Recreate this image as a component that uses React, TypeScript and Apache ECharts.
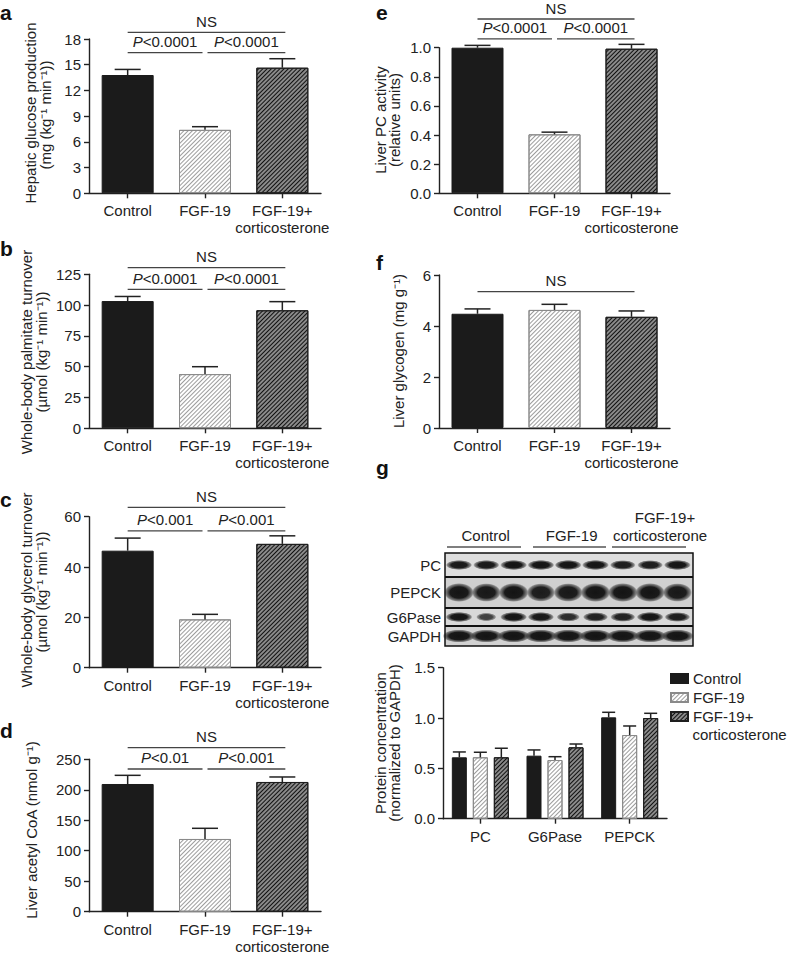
import React, { useEffect, useRef } from 'react';
import * as echarts from 'echarts';

// ---------------- data ----------------
const groups = ['Control', 'FGF-19', 'FGF-19+\ncorticosterone'];

const glucoseMean = [13.8, 7.4, 14.65];
const glucoseErr = [0.65, 0.37, 1.05];
const palmitateMean = [103.3, 44, 95.8];
const palmitateErr = [3.7, 6, 7];
const glycerolMean = [46.5, 19.2, 49.2];
const glycerolErr = [5, 2, 3.2];
const acetylMean = [209.5, 119.3, 212.8];
const acetylErr = [14.2, 17.5, 8.2];
const pcActMean = [1.0, 0.405, 0.993];
const pcActErr = [0.016, 0.015, 0.03];
const glycogenMean = [4.48, 4.63, 4.36];
const glycogenErr = [0.19, 0.22, 0.23];

const proteins = ['PC', 'G6Pase', 'PEPCK'];
const protControl = [0.61, 0.626, 1.007];
const protControlErr = [0.053, 0.057, 0.05];
const protFgf = [0.61, 0.583, 0.831];
const protFgfErr = [0.05, 0.033, 0.09];
const protCort = [0.61, 0.709, 1.0];
const protCortErr = [0.09, 0.033, 0.047];

const seriesNames = ['Control', 'FGF-19', 'FGF-19+ corticosterone'];

// significance brackets: [from group, to group]
const bracketSpans = [[0, 2], [0, 1], [1, 2]];
const aBrLevels = [18.78, 16.4, 16.4];
const aBrLabels = ['NS', 'P<0.0001', 'P<0.0001'];
const bBrLevels = [130.4, 112.8, 112.8];
const bBrLabels = ['NS', 'P<0.0001', 'P<0.0001'];
const cBrLevels = [63.7, 54.4, 54.4];
const cBrLabels = ['NS', 'P<0.001', 'P<0.001'];
const dBrLevels = [269, 234.1, 234.1];
const dBrLabels = ['NS', 'P<0.01', 'P<0.001'];
const eBrLevels = [1.197, 1.06, 1.06];
const eBrLabels = ['NS', 'P<0.0001', 'P<0.0001'];
const fBrLevels = [5.345];
const fBrLabels = ['NS'];

// western blot relative band strength per lane (9 lanes)
const blotPC = [0.95, 0.95, 1, 1, 1, 1, 0.9, 0.9, 1];
const blotPEPCK = [1, 0.95, 1, 0.9, 0.95, 1, 1, 1, 0.95];
const blotG6Pase = [1, 0.45, 1, 0.95, 0.7, 0.85, 0.85, 1, 0.9];
const blotGAPDH = [1, 1, 1, 1, 1, 1, 1, 1, 1];

// ---------------- style ----------------
const FONT = '"Liberation Sans", Arial, Helvetica, sans-serif';
const INK = '#222';

const lightDecal = {
  symbol: 'rect', symbolSize: 1, color: '#9c9c9c', backgroundColor: '#ffffff',
  dashArrayX: [1, 0], dashArrayY: [1, 2], rotation: -Math.PI / 4,
};
const darkDecal = {
  symbol: 'rect', symbolSize: 1, color: '#111111', backgroundColor: '#8a8a8a',
  dashArrayX: [1, 0], dashArrayY: [1, 2], rotation: -Math.PI / 4,
};
const groupStyles: any[] = [
  { color: '#1b1b1b', borderColor: '#1b1b1b', borderWidth: 1 },
  { color: '#ffffff', borderColor: '#8a8a8a', borderWidth: 1, decal: lightDecal },
  { color: '#8a8a8a', borderColor: '#1e1e1e', borderWidth: 1, decal: darkDecal },
];

function yAxisOf(gridIndex: number, max: number, interval: number, dec: number) {
  return {
    type: 'value', gridIndex, min: 0, max, interval,
    axisLine: { show: true, lineStyle: { color: INK, width: 1.4 } },
    axisTick: { show: true, length: 5, lineStyle: { color: INK, width: 1.4 } },
    splitLine: { show: false },
    axisLabel: {
      color: INK, fontSize: 15, fontFamily: FONT, margin: 8,
      formatter: (v: number) => v.toFixed(dec),
    },
  };
}
function xAxisOf(gridIndex: number, cats: string[]) {
  return {
    type: 'category', gridIndex, data: cats,
    axisLine: { show: true, lineStyle: { color: INK, width: 1.4 } },
    axisTick: { show: true, alignWithLabel: true, length: 5, lineStyle: { color: INK, width: 1.4 } },
    axisLabel: { color: INK, fontSize: 15, fontFamily: FONT, margin: 9, lineHeight: 17, interval: 0 },
  };
}

function errRender(capHalf: number, dx: number) {
  return (params: any, api: any) => {
    const top = api.coord([api.value(0), api.value(2)]);
    const base = api.coord([api.value(0), api.value(1)]);
    const x = top[0] + dx;
    const st = { stroke: INK, lineWidth: 1.5 };
    return {
      type: 'group',
      children: [
        { type: 'line', shape: { x1: x, y1: base[1], x2: x, y2: top[1] }, style: st },
        { type: 'line', shape: { x1: x - capHalf, y1: top[1], x2: x + capHalf, y2: top[1] }, style: st },
      ],
    };
  };
}

function bracketRender(labels: string[]) {
  return (params: any, api: any) => {
    const s = api.value(0);
    const e = api.value(1);
    const lv = api.value(2);
    const p1 = api.coord([s, lv]);
    const p2 = api.coord([e, lv]);
    const x1 = p1[0] + (s === 1 ? 2.5 : 0);
    const x2 = p2[0] + (e === 1 ? -2.5 : 3);
    const label = labels[params.dataIndex];
    const isP = label.charAt(0) === 'P';
    return {
      type: 'group',
      children: [
        { type: 'line', shape: { x1, y1: p1[1], x2, y2: p1[1] }, style: { stroke: '#444', lineWidth: 1.3 } },
        {
          type: 'text', x: (x1 + x2) / 2, y: p1[1] - 3,
          style: {
            text: isP ? '{i|P}' + label.slice(1) : label,
            align: 'center', verticalAlign: 'bottom',
            font: `15px ${FONT}`, fill: INK, lineHeight: 16,
            rich: { i: { fontStyle: 'italic', fontSize: 15, fontFamily: FONT, fill: INK, lineHeight: 16 } },
          },
        },
      ],
    };
  };
}

const panels = [
  { mean: glucoseMean, err: glucoseErr, max: 18, interval: 3, dec: 0, grid: { left: 89, top: 39, width: 232, height: 154.3 }, lv: aBrLevels, lb: aBrLabels },
  { mean: palmitateMean, err: palmitateErr, max: 125, interval: 25, dec: 0, grid: { left: 89, top: 274.3, width: 232, height: 154 }, lv: bBrLevels, lb: bBrLabels },
  { mean: glycerolMean, err: glycerolErr, max: 60, interval: 20, dec: 0, grid: { left: 89, top: 516.7, width: 232, height: 151 }, lv: cBrLevels, lb: cBrLabels },
  { mean: acetylMean, err: acetylErr, max: 250, interval: 50, dec: 0, grid: { left: 89, top: 759.3, width: 232, height: 152.4 }, lv: dBrLevels, lb: dBrLabels },
  { mean: pcActMean, err: pcActErr, max: 1.0, interval: 0.2, dec: 1, grid: { left: 439, top: 47.7, width: 231, height: 145.6 }, lv: eBrLevels, lb: eBrLabels },
  { mean: glycogenMean, err: glycogenErr, max: 6, interval: 2, dec: 0, grid: { left: 439, top: 275, width: 231, height: 153 }, lv: fBrLevels, lb: fBrLabels },
];

function rotText(text: string, x: number, y: number) {
  return {
    type: 'text', x, y, rotation: Math.PI / 2,
    style: { text, align: 'center', verticalAlign: 'middle', font: `15px ${FONT}`, fill: INK },
  };
}
function plainText(text: string, x: number, y: number, align = 'center', font = `15px ${FONT}`) {
  return { type: 'text', x, y, style: { text, align, verticalAlign: 'middle', font, fill: INK } };
}

function bandFill(v: number) {
  const a = 0.6 + 0.4 * v;
  return {
    type: 'radial', x: 0.5, y: 0.5, r: 0.5,
    colorStops: [
      { offset: 0, color: `rgba(20,20,20,${a})` },
      { offset: 0.6, color: `rgba(26,26,26,${a})` },
      { offset: 0.88, color: `rgba(60,60,60,${a * 0.55})` },
      { offset: 1, color: 'rgba(100,100,100,0)' },
    ],
  };
}

function buildBlot() {
  const els: any[] = [];
  const x0 = 445, x1 = 693;
  const edges = [553, 577, 608, 626, 646];
  const rows = [
    { name: 'PC', lanes: blotPC, rx: 13.5, ry: 5, bg: '#dedede' },
    { name: 'PEPCK', lanes: blotPEPCK, rx: 15, ry: 9.5, bg: '#d0d0d0' },
    { name: 'G6Pase', lanes: blotG6Pase, rx: 13.5, ry: 5, bg: '#d8d8d8' },
    { name: 'GAPDH', lanes: blotGAPDH, rx: 16.5, ry: 6.5, bg: '#d2d2d2' },
  ];
  rows.forEach((r, ri) => {
    const cy = (edges[ri] + edges[ri + 1]) / 2;
    els.push({ type: 'rect', shape: { x: x0, y: edges[ri], width: x1 - x0, height: edges[ri + 1] - edges[ri] }, style: { fill: r.bg } });
    r.lanes.forEach((v, li) => {
      const cx = 459 + li * 27.3;
      els.push({ type: 'ellipse', shape: { cx, cy, rx: r.rx * (0.55 + 0.45 * v), ry: r.ry * (0.7 + 0.3 * v) }, style: { fill: bandFill(v) } });
    });
    els.push(plainText(r.name, 441, cy, 'right'));
  });
  [1, 2, 3].forEach((k) => {
    els.push({ type: 'line', shape: { x1: x0, y1: edges[k], x2: x1, y2: edges[k] }, style: { stroke: '#111', lineWidth: 1.8 } });
  });
  els.push({ type: 'rect', shape: { x: x0, y: edges[0], width: x1 - x0, height: edges[4] - edges[0] }, style: { fill: 'none', stroke: '#111', lineWidth: 1.5 } });
  // group labels
  els.push(plainText('Control', 485.7, 535));
  els.push(plainText('FGF-19', 571.7, 535));
  els.push(plainText('FGF-19+', 665, 517));
  els.push(plainText('corticosterone', 660, 535));
  [[447, 521], [533, 606], [612, 686]].forEach(([a, b]) => {
    els.push({ type: 'line', shape: { x1: a, y1: 547, x2: b, y2: 547 }, style: { stroke: '#555', lineWidth: 1.3 } });
  });
  return els;
}

function buildOption() {
  const grid: any[] = [];
  const xAxis: any[] = [];
  const yAxis: any[] = [];
  const series: any[] = [];

  panels.forEach((p, i) => {
    grid.push({ ...p.grid, outerBoundsMode: 'none', containLabel: false });
    xAxis.push(xAxisOf(i, groups));
    yAxis.push(yAxisOf(i, p.max, p.interval, p.dec));
    series.push({
      type: 'bar', name: 'panel' + i, xAxisIndex: i, yAxisIndex: i, barWidth: 52,
      data: p.mean.map((m, k) => ({ value: m, itemStyle: groupStyles[k] })),
      z: 2,
    });
    series.push({
      type: 'custom', name: 'err' + i, xAxisIndex: i, yAxisIndex: i, z: 5,
      renderItem: errRender(13, 0),
      data: p.mean.map((m, k) => [k, m, m + p.err[k]]),
      encode: { x: 0, y: [1, 2] },
    });
    series.push({
      type: 'custom', name: 'br' + i, xAxisIndex: i, yAxisIndex: i, z: 6, clip: false,
      renderItem: bracketRender(p.lb),
      data: p.lv.map((lv, k) => [bracketSpans[k][0], bracketSpans[k][1], lv]),
      encode: { x: [0, 1], y: 2 },
    });
  });

  // panel g chart
  const gi = panels.length;
  grid.push({ left: 443, top: 667.7, width: 224, height: 151, outerBoundsMode: 'none', containLabel: false });
  xAxis.push(xAxisOf(gi, proteins));
  yAxis.push(yAxisOf(gi, 1.5, 0.5, 1));
  const gMeans = [protControl, protFgf, protCort];
  const gErrs = [protControlErr, protFgfErr, protCortErr];
  const offsets = [-21, 0, 21];
  gMeans.forEach((vals, s) => {
    series.push({
      type: 'bar', name: seriesNames[s], xAxisIndex: gi, yAxisIndex: gi,
      barWidth: 15, barGap: '40%', itemStyle: groupStyles[s], data: vals, z: 2,
    });
  });
  gMeans.forEach((vals, s) => {
    series.push({
      type: 'custom', name: 'gerr' + s, xAxisIndex: gi, yAxisIndex: gi, z: 5,
      renderItem: errRender(6.5, offsets[s]),
      data: vals.map((m, k) => [k, m, m + gErrs[s][k]]),
      encode: { x: 0, y: [1, 2] },
    });
  });

  const graphic: any[] = [];
  const letterFont = `bold 21px ${FONT}`;
  [['a', 0, 12], ['b', 0, 248], ['c', 0, 499], ['d', 0, 730], ['e', 376, 12], ['f', 376, 262], ['g', 376, 467]].forEach(
    ([t, x, y]) => graphic.push({ type: 'text', x, y, style: { text: t, align: 'left', verticalAlign: 'middle', font: letterFont, fill: '#111' } })
  );
  graphic.push(rotText('Hepatic glucose production', 30, 113));
  graphic.push(rotText('(mg (kg\u207B\u00B9 min\u207B\u00B9))', 45.5, 115));
  graphic.push(rotText('Whole-body palmitate turnover', 26.5, 352));
  graphic.push(rotText('(\u00B5mol (kg\u207B\u00B9 min\u207B\u00B9))', 41.5, 352));
  graphic.push(rotText('Whole-body glycerol turnover', 26.5, 590));
  graphic.push(rotText('(\u00B5mol (kg\u207B\u00B9 min\u207B\u00B9))', 41.5, 592));
  graphic.push(rotText('Liver acetyl CoA (nmol g\u207B\u00B9)', 31, 830));
  graphic.push(rotText('Liver PC activity', 380, 120));
  graphic.push(rotText('(relative units)', 394.5, 120));
  graphic.push(rotText('Liver glycogen (mg g\u207B\u00B9)', 398, 351));
  graphic.push(rotText('Protein concentration', 380, 743));
  graphic.push(rotText('(normalized to GAPDH)', 394.5, 743));
  graphic.push(...buildBlot());
  graphic.push(plainText('corticosterone', 692.5, 734.5, 'left'));

  return {
    animation: false,
    backgroundColor: '#ffffff',
    textStyle: { fontFamily: FONT },
    grid, xAxis, yAxis, series, graphic,
    legend: {
      data: seriesNames,
      orient: 'vertical', left: 670, top: 670,
      itemWidth: 17, itemHeight: 9, itemGap: 2, icon: 'rect', padding: 0,
      selectedMode: false,
      textStyle: { color: INK, fontSize: 15, fontFamily: FONT, lineHeight: 17 },
      formatter: (n: string) => (n === 'FGF-19+ corticosterone' ? 'FGF-19+' : n),
    },
  };
}

export default function App() {
  const ref = useRef<HTMLDivElement>(null);
  useEffect(() => {
    document.body.style.margin = '0';
    const chart = echarts.init(ref.current as HTMLDivElement, null, { renderer: 'svg' });
    chart.setOption(buildOption() as any);
    return () => chart.dispose();
  }, []);
  return <div ref={ref} style={{ width: 788, height: 957 }} />;
}
